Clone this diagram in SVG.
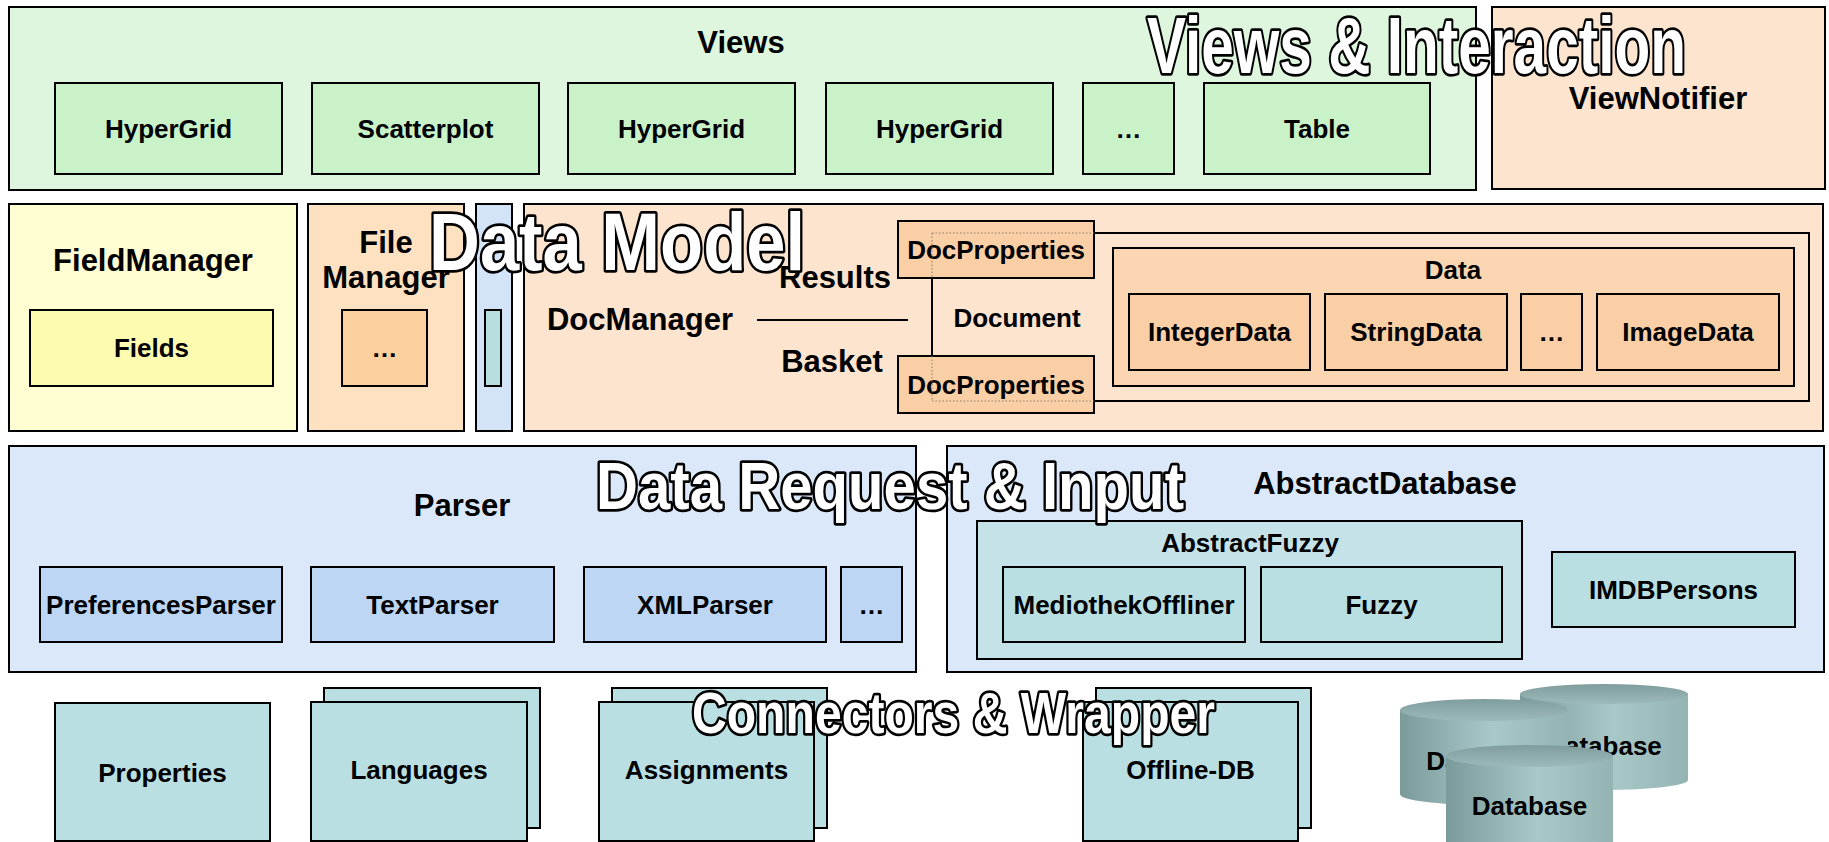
<svg xmlns="http://www.w3.org/2000/svg" width="1829" height="842" viewBox="0 0 1829 842">
<defs>
<style>
.t{font-family:"Liberation Sans",Arial,sans-serif;font-weight:bold;fill:#000;text-anchor:middle}
.h{font-size:31px}
.s{font-size:26px}
.b{stroke:#000;stroke-width:2}
.wa{font-family:"Liberation Sans",Arial,sans-serif;font-weight:bold;fill:#fff;stroke:#000;stroke-width:5.5;stroke-linejoin:round;paint-order:stroke}
.gV{fill:#ddf6dd}.gI{fill:#c9f2c9}
.oB{fill:#fde4cf}.oI{fill:#fbcfa5}
.yB{fill:#fffdd2}.yI{fill:#fdfbaf}
.bB{fill:#dae8f9}.bI{fill:#bcd6f4}
.cA{fill:#c6e2e9}.cI{fill:#b9dfe2}
</style>
<linearGradient id="cylBody" x1="0" y1="0" x2="1" y2="0">
<stop offset="0" stop-color="#7b9a9a"/>
<stop offset="0.55" stop-color="#a9c8c8"/>
<stop offset="1" stop-color="#94b4b4"/>
</linearGradient>
<linearGradient id="cylTop" x1="0" y1="0" x2="0" y2="1">
<stop offset="0" stop-color="#7f9d9d"/>
<stop offset="1" stop-color="#9cbaba"/>
</linearGradient>
</defs>

<!-- Row 1 -->
<g id="views">
<rect x="9" y="7" width="1467" height="183" class="gV b"/>
<text x="741" y="53" class="t h">Views</text>
</g>
<g id="hypergrid1"><rect x="55" y="83" width="227" height="91" class="gI b"/><text x="168.5" y="138" class="t s">HyperGrid</text></g>
<g id="scatterplot"><rect x="312" y="83" width="227" height="91" class="gI b"/><text x="425.5" y="138" class="t s">Scatterplot</text></g>
<g id="hypergrid2"><rect x="568" y="83" width="227" height="91" class="gI b"/><text x="681.5" y="138" class="t s">HyperGrid</text></g>
<g id="hypergrid3"><rect x="826" y="83" width="227" height="91" class="gI b"/><text x="939.5" y="138" class="t s">HyperGrid</text></g>
<g id="views-more"><rect x="1083" y="83" width="91" height="91" class="gI b"/><text x="1128.5" y="138" class="t s">…</text></g>
<g id="table"><rect x="1204" y="83" width="226" height="91" class="gI b"/><text x="1317" y="138" class="t s">Table</text></g>
<g id="viewnotifier">
<rect x="1492" y="7" width="333" height="182" class="oB b"/>
<text x="1658" y="109" class="t h">ViewNotifier</text>
</g>

<!-- Row 2 -->
<g id="fieldmanager">
<rect x="9" y="204" width="288" height="227" class="yB b"/>
<text x="153" y="271" class="t h">FieldManager</text>
</g>
<g id="fields"><rect x="30" y="310" width="243" height="76" class="yI b"/><text x="151.5" y="357" class="t s">Fields</text></g>
<g id="filemanager">
<rect x="308" y="204" width="156" height="227" fill="#fde1c0" class="b"/>
<text x="386" y="253" class="t h">File</text>
<text x="386" y="288" class="t h">Manager</text>
</g>
<g id="filemanager-more"><rect x="342" y="310" width="85" height="76" fill="#fccf9e" class="b"/><text x="384.5" y="357" class="t s">…</text></g>
<g id="thin-column">
<rect x="476" y="204" width="36" height="227" fill="#d4e4f8" class="b"/>
<rect x="485" y="310" width="16" height="76" fill="#b8dfe0" class="b"/>
</g>
<g id="docmanager">
<rect x="524" y="204" width="1299" height="227" class="oB b"/>
<text x="640" y="330" class="t h">DocManager</text>
</g>
<g id="document">
<rect x="932" y="233" width="877" height="168" fill="none" class="b"/>
<text x="1017" y="327" class="t s">Document</text>
</g>
<g id="data">
<rect x="1113" y="248" width="681" height="138" fill="#fcd6b2" class="b"/>
<text x="1453" y="279" class="t s">Data</text>
</g>
<g id="integerdata"><rect x="1129" y="294" width="181" height="76" class="oI b"/><text x="1219.5" y="341" class="t s">IntegerData</text></g>
<g id="stringdata"><rect x="1325" y="294" width="182" height="76" class="oI b"/><text x="1416" y="341" class="t s">StringData</text></g>
<g id="data-more"><rect x="1521" y="294" width="61" height="76" class="oI b"/><text x="1551.5" y="341" class="t s">…</text></g>
<g id="imagedata"><rect x="1597" y="294" width="182" height="76" class="oI b"/><text x="1688" y="341" class="t s">ImageData</text></g>
<g id="docproperties-results"><rect x="898" y="221" width="196" height="57" class="oI b"/><text x="996" y="259" class="t s">DocProperties</text></g>
<g id="docproperties-basket"><rect x="898" y="356" width="196" height="57" class="oI b"/><text x="996" y="394" class="t s">DocProperties</text></g>
<g id="document-hidden-edges">
<path d="M932 233H1094M932 233V278M932 356V401M932 401H1094" fill="none" stroke="#8a7a6a" stroke-width="1" stroke-dasharray="1.5 2"/>
</g>

<g id="connectors">
<line x1="757" y1="320" x2="908" y2="320" stroke="#000" stroke-width="2"/>
<text x="835" y="288" class="t h">Results</text>
<text x="832" y="372" class="t h">Basket</text>
</g>

<!-- Row 3 -->
<g id="parser">
<rect x="9" y="446" width="907" height="226" class="bB b"/>
<text x="462" y="516" class="t h">Parser</text>
</g>
<g id="preferencesparser"><rect x="40" y="567" width="242" height="75" class="bI b"/><text x="161" y="614" class="t s">PreferencesParser</text></g>
<g id="textparser"><rect x="311" y="567" width="243" height="75" class="bI b"/><text x="432.5" y="614" class="t s">TextParser</text></g>
<g id="xmlparser"><rect x="584" y="567" width="242" height="75" class="bI b"/><text x="705" y="614" class="t s">XMLParser</text></g>
<g id="parser-more"><rect x="841" y="567" width="61" height="75" class="bI b"/><text x="871.5" y="614" class="t s">…</text></g>
<g id="abstractdatabase">
<rect x="947" y="446" width="877" height="226" class="bB b"/>
<text x="1385" y="494" class="t h">AbstractDatabase</text>
</g>
<g id="abstractfuzzy">
<rect x="977" y="521" width="545" height="138" class="cA b"/>
<text x="1250" y="552" class="t s">AbstractFuzzy</text>
</g>
<g id="mediothekoffliner"><rect x="1003" y="567" width="242" height="75" class="cI b"/><text x="1124" y="614" class="t s">MediothekOffliner</text></g>
<g id="fuzzy"><rect x="1261" y="567" width="241" height="75" class="cI b"/><text x="1381.5" y="614" class="t s">Fuzzy</text></g>
<g id="imdbpersons"><rect x="1552" y="552" width="243" height="75" class="cI b"/><text x="1673.5" y="599" class="t s">IMDBPersons</text></g>

<!-- Row 4 -->
<g id="properties"><rect x="55" y="703" width="215" height="138" class="cI b"/><text x="162.5" y="782" class="t s">Properties</text></g>
<g id="languages">
<rect x="324" y="688" width="216" height="140" class="cI b"/>
<rect x="311" y="702" width="216" height="139" class="cI b"/>
<text x="419" y="779" class="t s">Languages</text>
</g>
<g id="assignments">
<rect x="612" y="688" width="215" height="140" class="cI b"/>
<rect x="599" y="702" width="215" height="139" class="cI b"/>
<text x="706.5" y="779" class="t s">Assignments</text>
</g>
<g id="offline-db">
<rect x="1096" y="688" width="215" height="140" class="cI b"/>
<rect x="1083" y="702" width="215" height="139" class="cI b"/>
<text x="1190.5" y="779" class="t s">Offline-DB</text>
</g>
<g id="database2">
<path d="M1520 694V780A84 10 0 0 0 1688 780V694Z" fill="url(#cylBody)"/>
<ellipse cx="1604" cy="694" rx="84" ry="10" fill="url(#cylTop)"/>
<text x="1604" y="755" class="t s">Database</text>
</g>
<g id="database1">
<path d="M1400 710V794A84 11 0 0 0 1568 794V710Z" fill="url(#cylBody)"/>
<ellipse cx="1484" cy="710" rx="84" ry="11" fill="url(#cylTop)"/>
<text x="1484" y="770" class="t s">Database</text>
</g>
<g id="database3">
<path d="M1446 756V870H1613V756Z" fill="url(#cylBody)"/>
<ellipse cx="1529.5" cy="756" rx="83.5" ry="11" fill="url(#cylTop)"/>
<text x="1529.5" y="815" class="t s">Database</text>
</g>

<!-- Layer titles -->
<g id="layer-titles">
<text x="1147" y="73" font-size="80" textLength="539" lengthAdjust="spacingAndGlyphs" class="wa">Views &amp; Interaction</text>
<text x="429" y="270" font-size="82" textLength="376" lengthAdjust="spacingAndGlyphs" class="wa">Data Model</text>
<text x="596" y="509" font-size="66" textLength="588" lengthAdjust="spacingAndGlyphs" class="wa">Data Request &amp; Input</text>
<text x="692" y="733" font-size="58" textLength="523" lengthAdjust="spacingAndGlyphs" class="wa">Connectors &amp; Wrapper</text>
</g>
</svg>
